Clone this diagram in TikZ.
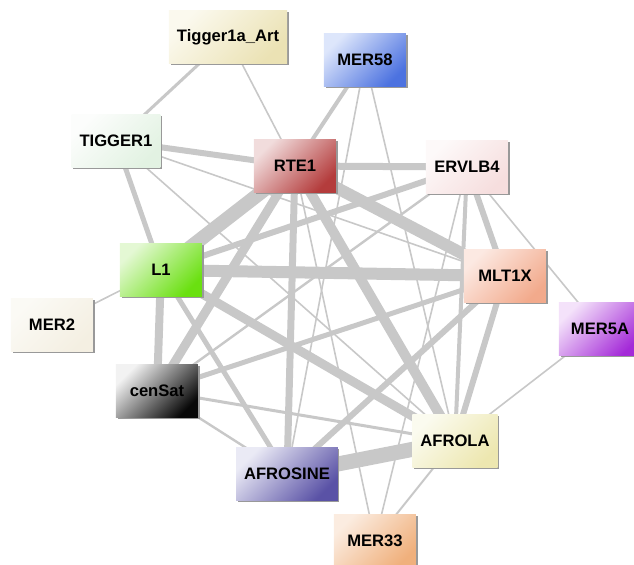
\documentclass[tikz,border=0pt]{standalone}
\usepackage{fontspec}
\setmainfont{Liberation Sans}
\usetikzlibrary{shadows}

\definecolor{linkgrey}{RGB}{200,200,200}
\definecolor{tartlight}{HTML}{FBF9EE}\definecolor{tartdark}{HTML}{EBE2B4}
\definecolor{merlight}{HTML}{DDE6FB}\definecolor{merdark}{HTML}{4C72E0}
\definecolor{tiglight}{HTML}{FCFDFC}\definecolor{tigdark}{HTML}{E2F2E2}
\definecolor{rtelight}{HTML}{F1DCDC}\definecolor{rtedark}{HTML}{B43C3C}
\definecolor{ervlight}{HTML}{FDF9F9}\definecolor{ervdark}{HTML}{F6DEDE}
\definecolor{lonelight}{HTML}{E4F8D4}\definecolor{lonedark}{HTML}{6AE010}
\definecolor{mltlight}{HTML}{FCE9E2}\definecolor{mltdark}{HTML}{F2AA8C}
\definecolor{mertwolight}{HTML}{FBFAF5}\definecolor{mertwodark}{HTML}{F4EFE2}
\definecolor{merfivelight}{HTML}{F4E2FA}\definecolor{merfivedark}{HTML}{A42AD8}
\definecolor{cenlight}{HTML}{F2F2F2}\definecolor{cendark}{HTML}{080808}
\definecolor{afrolalight}{HTML}{FBFBEF}\definecolor{afroladark}{HTML}{EDE7B0}
\definecolor{afrosinelight}{HTML}{EAEAF5}\definecolor{afrosinedark}{HTML}{5A52A6}
\definecolor{merttlight}{HTML}{FBECE0}\definecolor{merttdark}{HTML}{F0B07C}

\pgfdeclarelayer{links}
\pgfsetlayers{links,main}

\tikzset{
    repbox/.style={minimum width=41pt,minimum height=26.5pt,inner xsep=4pt,
        font=\fontsize{8.3}{10}\selectfont\bfseries,
        drop shadow={shadow xshift=0.8pt,shadow yshift=-0.8pt,fill=black!40,opacity=1}},
    link/.style={draw=linkgrey,line width=#1}
}
\newcommand{\repbox}[5]{
    \node[repbox,top color=#4,bottom color=#5,shading angle=45] (#1) at (#2) {#3};
}

\begin{document}
\begin{tikzpicture}[x=0.5pt,y=-0.5pt]
        \useasboundingbox (0,0) rectangle (634,565);

        \repbox{tart}{228,37}{Tigger1a\_Art}{tartlight}{tartdark}
        \repbox{mer58}{365,60}{MER58}{merlight}{merdark}
        \repbox{tig}{116,141}{TIGGER1}{tiglight}{tigdark}
        \repbox{rte}{295,166}{RTE1}{rtelight}{rtedark}
        \repbox{erv}{467,167}{ERVLB4}{ervlight}{ervdark}
        \repbox{lone}{161,270}{L1}{lonelight}{lonedark}
        \repbox{mlt}{505,276}{MLT1X}{mltlight}{mltdark}
        \repbox{mer2}{52,325}{MER2}{mertwolight}{mertwodark}
        \repbox{mer5a}{600,329}{MER5A}{merfivelight}{merfivedark}
        \repbox{cen}{157,391}{cenSat}{cenlight}{cendark}
        \repbox{afrola}{455,441}{AFROLA}{afrolalight}{afroladark}
        \repbox{afrosine}{287,474}{AFROSINE}{afrosinelight}{afrosinedark}
        \repbox{mer33}{375,541}{MER33}{merttlight}{merttdark}

        % links, width after the repeat overlap
        \begin{pgfonlayer}{links}
            \draw[link=1.5pt] (tart.center) -- (tig.center);
            \draw[link=0.8pt] (tart.center) -- (rte.center);
            \draw[link=2pt] (mer58.center) -- (rte.center);
            \draw[link=0.8pt] (mer58.center) -- (afrosine.center);
            \draw[link=0.8pt] (mer58.center) -- (afrola.center);
            \draw[link=3pt] (tig.center) -- (rte.center);
            \draw[link=2.5pt] (tig.center) -- (lone.center);
            \draw[link=0.8pt] (tig.center) -- (mlt.center);
            \draw[link=0.8pt] (tig.center) -- (afrola.center);
            \draw[link=3.5pt] (rte.center) -- (erv.center);
            \draw[link=7pt] (rte.center) -- (lone.center);
            \draw[link=4.5pt] (rte.center) -- (cen.center);
            \draw[link=3.5pt] (rte.center) -- (afrosine.center);
            \draw[link=5pt] (rte.center) -- (afrola.center);
            \draw[link=6pt] (rte.center) -- (mlt.center);
            \draw[link=0.8pt] (rte.center) -- (mer33.center);
            \draw[link=3pt] (erv.center) -- (lone.center);
            \draw[link=3pt] (erv.center) -- (mlt.center);
            \draw[link=2pt] (erv.center) -- (afrola.center);
            \draw[link=1.2pt] (erv.center) -- (cen.center);
            \draw[link=0.8pt] (erv.center) -- (mer5a.center);
            \draw[link=0.8pt] (erv.center) -- (mer33.center);
            \draw[link=0.8pt] (lone.center) -- (mer2.center);
            \draw[link=4pt] (lone.center) -- (cen.center);
            \draw[link=6pt] (lone.center) -- (mlt.center);
            \draw[link=4.5pt] (lone.center) -- (afrola.center);
            \draw[link=2.5pt] (lone.center) -- (afrosine.center);
            \draw[link=3pt] (mlt.center) -- (afrola.center);
            \draw[link=3pt] (mlt.center) -- (afrosine.center);
            \draw[link=2.5pt] (mlt.center) -- (cen.center);
            \draw[link=1.5pt] (cen.center) -- (afrola.center);
            \draw[link=1.2pt] (cen.center) -- (afrosine.center);
            \draw[link=7.5pt] (afrosine.center) -- (afrola.center);
            \draw[link=0.8pt] (mer5a.center) -- (afrola.center);
            \draw[link=1pt] (afrola.center) -- (mer33.center);
        \end{pgfonlayer}
    \end{tikzpicture}
\end{document}
